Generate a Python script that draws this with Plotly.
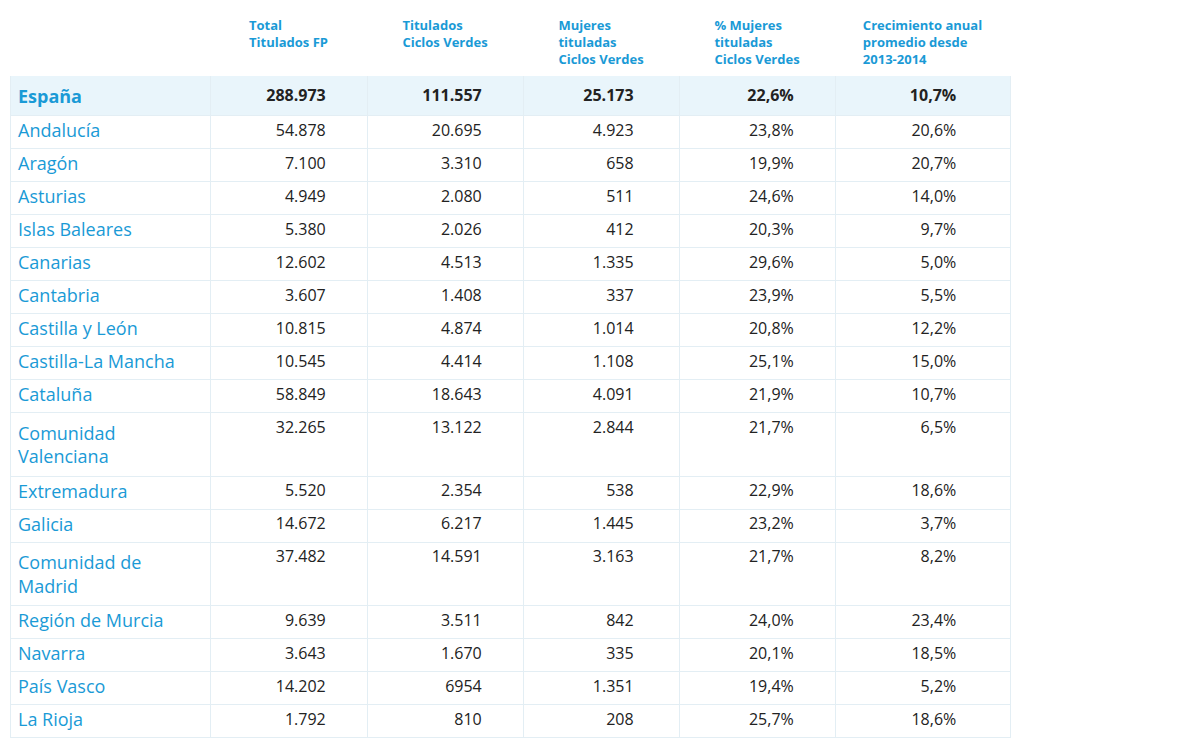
import plotly.graph_objects as go

regions = ["España", "Andalucía", "Aragón", "Asturias", "Islas Baleares", "Canarias",
           "Cantabria", "Castilla y León", "Castilla-La Mancha", "Cataluña",
           "Comunidad<br>Valenciana", "Extremadura", "Galicia", "Comunidad de<br>Madrid",
           "Región de Murcia", "Navarra", "País Vasco", "La Rioja"]
total_fp = ["288.973", "54.878", "7.100", "4.949", "5.380", "12.602", "3.607", "10.815",
            "10.545", "58.849", "32.265", "5.520", "14.672", "37.482", "9.639", "3.643",
            "14.202", "1.792"]
ciclos_verdes = ["111.557", "20.695", "3.310", "2.080", "2.026", "4.513", "1.408", "4.874",
                 "4.414", "18.643", "13.122", "2.354", "6.217", "14.591", "3.511", "1.670",
                 "6954", "810"]
mujeres = ["25.173", "4.923", "658", "511", "412", "1.335", "337", "1.014", "1.108",
           "4.091", "2.844", "538", "1.445", "3.163", "842", "335", "1.351", "208"]
pct_mujeres = ["22,6%", "23,8%", "19,9%", "24,6%", "20,3%", "29,6%", "23,9%", "20,8%",
               "25,1%", "21,9%", "21,7%", "22,9%", "23,2%", "21,7%", "24,0%", "20,1%",
               "19,4%", "25,7%"]
crecimiento = ["10,7%", "20,6%", "20,7%", "14,0%", "9,7%", "5,0%", "5,5%", "12,2%",
               "15,0%", "10,7%", "6,5%", "18,6%", "3,7%", "8,2%", "23,4%", "18,5%",
               "5,2%", "18,6%"]
headers = ["", "Total<br>Titulados FP", "Titulados<br>Ciclos Verdes",
           "Mujeres<br>tituladas<br>Ciclos Verdes", "% Mujeres<br>tituladas<br>Ciclos Verdes",
           "Crecimiento anual<br>promedio desde<br>2013-2014"]

blue = "#1a9ad6"


def padded(col, n):
    return [("<b>%s</b>" % v if i == 0 else v) + "\u00a0" * n for i, v in enumerate(col)]


names = ["<b>%s</b>" % r if i == 0 else r for i, r in enumerate(regions)]
fills = ["#e9f5fb"] + ["white"] * (len(regions) - 1)

fig = go.Figure(go.Table(
    domain=dict(x=[2 / 1180, 1002 / 1180], y=[0, 1]),
    columnwidth=[200, 157, 156, 156, 156, 175],
    header=dict(values=["<b>%s</b>" % h for h in headers], align="center", height=58,
                fill_color="white", line_color="white",
                font=dict(family="Open Sans", size=13, color=blue)),
    cells=dict(values=[names, padded(total_fp, 8), padded(ciclos_verdes, 8),
                       padded(mujeres, 9), padded(pct_mujeres, 8), padded(crecimiento, 11)],
               align=["left", "right", "right", "right", "right", "right"],
               height=33, fill_color=[fills] * 6, line_color="#e3eef4",
               font=dict(family="Open Sans",
                         size=[18, 16, 16, 16, 16, 16],
                         color=[blue, "#222", "#222", "#222", "#222", "#222"])),
))
fig.update_layout(width=1180, height=753, margin=dict(l=0, r=0, t=0, b=0),
                  paper_bgcolor="white")
fig.write_html("out.html")
